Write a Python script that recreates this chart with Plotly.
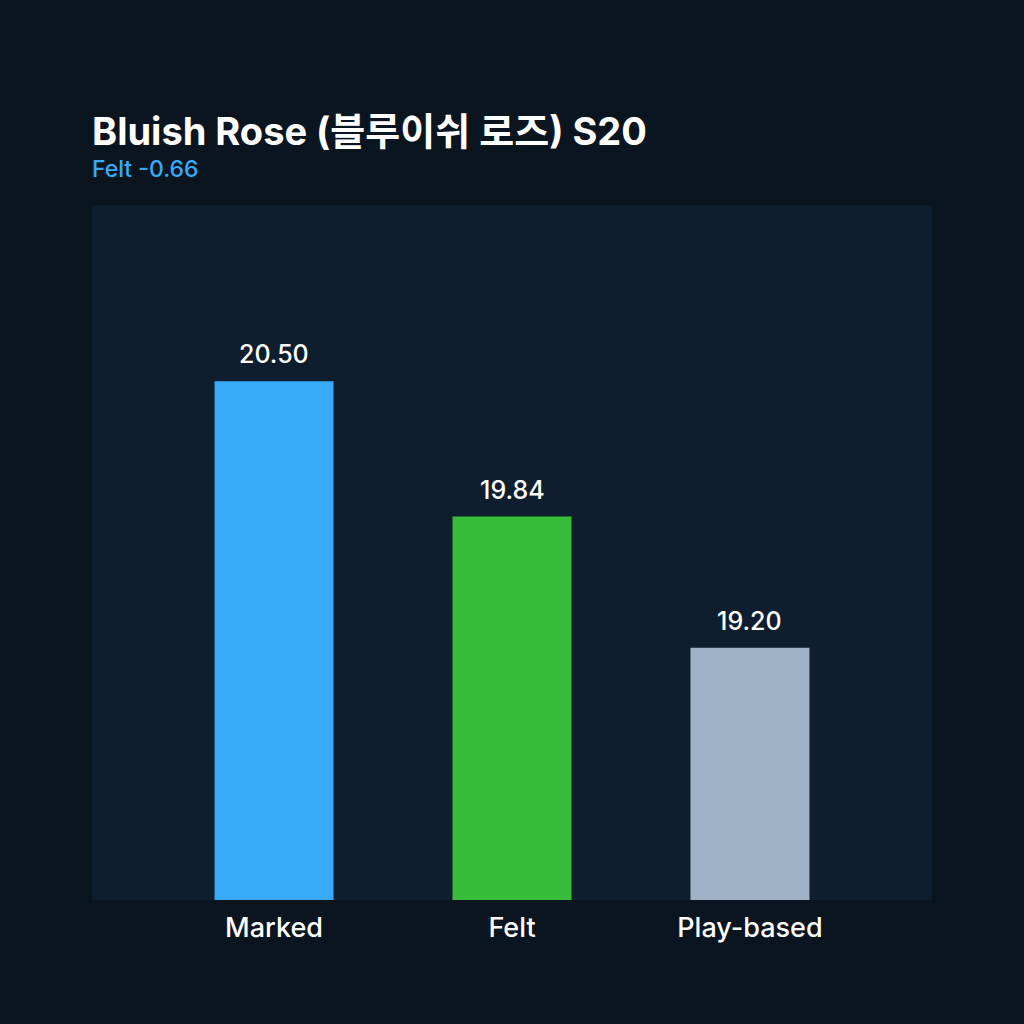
import plotly.graph_objects as go

categories = ["Marked", "Felt", "Play-based"]
values = [20.50, 19.84, 19.20]
colors = ["#38aaf8", "#38bd3a", "#9fb2c8"]
value_labels = ["20.50", "19.84", "19.20"]

title_text = "Bluish Rose (블루이쉬 로즈) S20"
subtitle_text = "Felt -0.66"

FONT = "Inter, 'Noto Sans CJK KR', sans-serif"

fig = go.Figure()
fig.add_trace(go.Bar(
    x=categories, y=values, marker=dict(color=colors, line=dict(width=0)),
    width=0.5, hoverinfo="skip",
))

for c, v, t in zip(categories, values, value_labels):
    fig.add_annotation(x=c, y=v, text=t, showarrow=False, yanchor="bottom",
                       yshift=10, font=dict(family=FONT, size=25, color="#ffffff", weight=500))

fig.add_annotation(xref="paper", yref="paper", x=0, y=1, xanchor="left", yanchor="bottom",
                   yshift=49, xshift=-2, text=title_text, showarrow=False,
                   font=dict(family=FONT, size=38, color="#ffffff", weight=700))
fig.add_annotation(xref="paper", yref="paper", x=-0.002, y=1, xanchor="left", yanchor="bottom",
                   yshift=20, text=subtitle_text, showarrow=False,
                   font=dict(family=FONT, size=23, color="#38aaf8", weight=500))

fig.update_layout(
    width=1024, height=1024,
    margin=dict(l=92, r=92, t=205, b=124),
    paper_bgcolor="#0b1520", plot_bgcolor="#0f1e2e",
    showlegend=False,
    font=dict(family=FONT, color="#ffffff"),
    xaxis=dict(range=[-0.765, 2.765], showgrid=False, zeroline=False, showline=False,
               ticks="", tickfont=dict(family=FONT, size=27, color="#ffffff", weight=500),
               ticklabelstandoff=9),
    yaxis=dict(range=[17.97, 21.36], showgrid=False, zeroline=False, showline=False,
               showticklabels=False, ticks=""),
)

fig.write_html("out.html", config={"displayModeBar": False},
               post_script="document.body.style.margin='0';document.body.style.padding='0';")
